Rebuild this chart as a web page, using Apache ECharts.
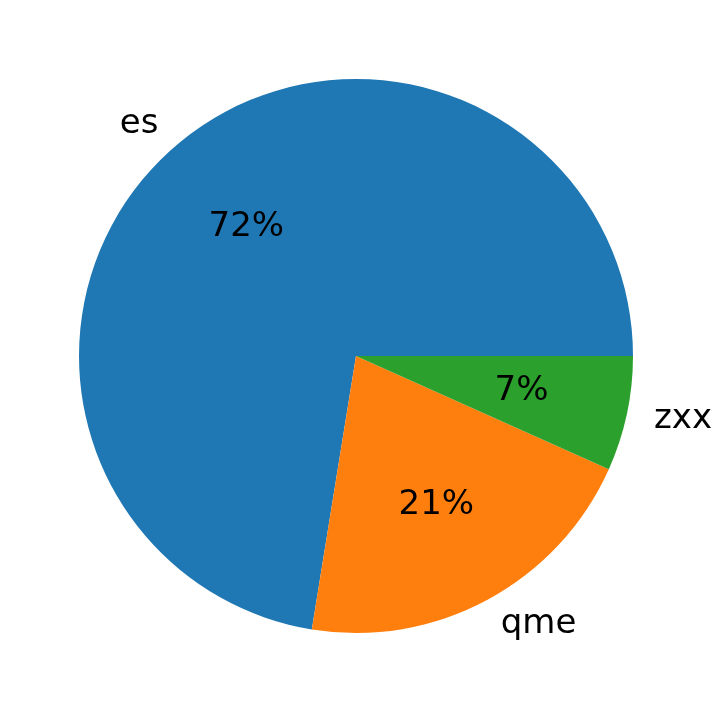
<!DOCTYPE html>
<html>
<head>
<meta charset="utf-8">
<script src="https://cdn.jsdelivr.net/npm/echarts@6/dist/echarts.min.js"></script>
<style>
html,body{margin:0;padding:0;background:#fff;}
#chart{width:724px;height:713px;}
</style>
</head>
<body>
<div id="chart"></div>
<script>
const categories = ['es', 'qme', 'zxx'];
const values = [72.45, 20.85, 6.7];
const colors = ['#1f77b4', '#ff7f0e', '#2ca02c'];

const R = 277;
const CENTER = [356, 356];
const FONT = 'DejaVu Sans';
const total = values.reduce((a, b) => a + b, 0);

const baseData = categories.map((c, i) => ({ name: c, value: values[i] }));

const chart = echarts.init(document.getElementById('chart'), null, { renderer: 'canvas' });
chart.setOption({
  animation: false,
  backgroundColor: '#ffffff',
  series: [
    {
      type: 'pie',
      center: CENTER,
      radius: [0, R],
      startAngle: 0,
      clockwise: false,
      avoidLabelOverlap: false,
      silent: true,
      data: baseData.map((d, i) => ({ ...d, itemStyle: { color: colors[i] } })),
      itemStyle: { borderWidth: 0 },
      label: {
        show: true,
        position: 'outside',
        fontFamily: FONT,
        fontSize: 34,
        color: '#000',
        distanceToLabelLine: 0
      },
      labelLine: { show: false, length: R * 0.1, length2: 0 }
    },
    {
      type: 'pie',
      center: CENTER,
      radius: [R * 0.2, R],
      startAngle: 0,
      clockwise: false,
      avoidLabelOverlap: false,
      silent: true,
      data: baseData,
      itemStyle: { color: 'rgba(0,0,0,0)', borderWidth: 0 },
      label: {
        show: true,
        position: 'inside',
        fontFamily: FONT,
        fontSize: 34,
        color: '#000',
        formatter: p => Math.round(p.value / total * 100) + '%'
      },
      labelLine: { show: false }
    }
  ]
});
</script>
</body>
</html>
